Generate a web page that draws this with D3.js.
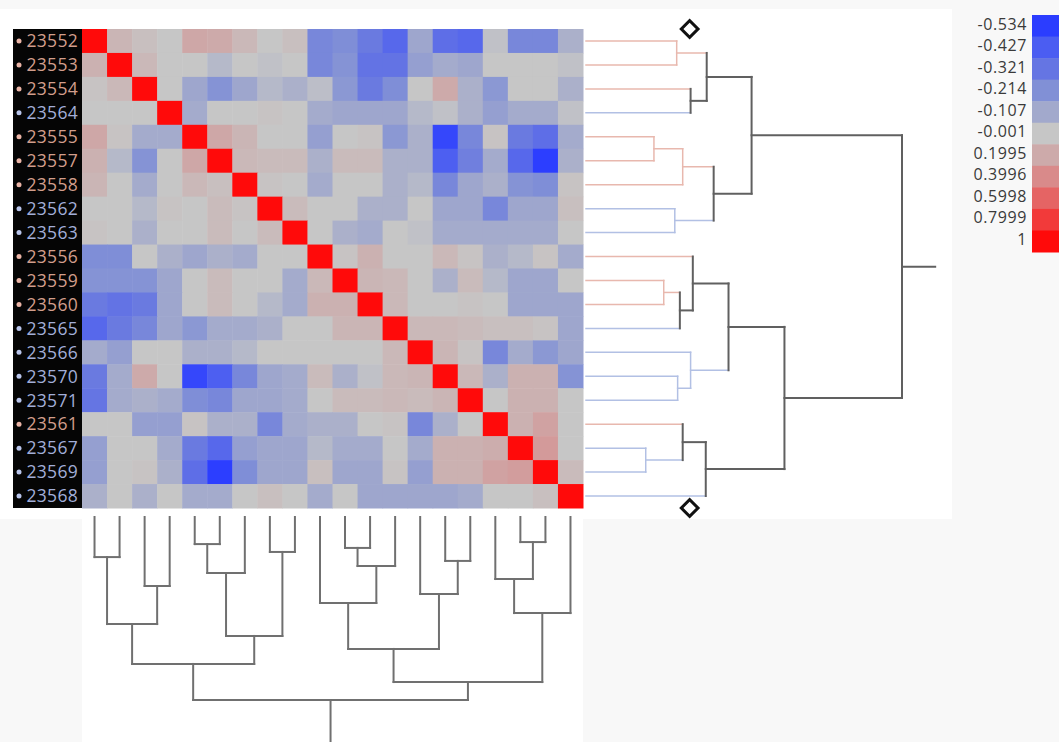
<!DOCTYPE html>
<html>
<head>
<meta charset="utf-8">
<script src="https://cdn.jsdelivr.net/npm/d3@7"></script>
<style>
  body { margin: 0; background: #f8f8f8; }
  svg { display: block; font-family: "Open Sans", "Noto Sans", sans-serif; }
</style>
</head>
<body>
<script>
/* Sample ids in display order, and their group (0 = salmon, 1 = blue) */
var samples = ["23552", "23553", "23554", "23564", "23555", "23557", "23558", "23562", "23563", "23556",
               "23559", "23560", "23565", "23566", "23570", "23571", "23561", "23567", "23569", "23568"];
var groups = [0, 0, 0, 1, 0, 0, 0, 1, 1, 0, 0, 0, 1, 1, 1, 1, 0, 1, 1, 1];

/* Correlation matrix */
var corr = [
  [1, 0.12, 0.05, 0.0, 0.22, 0.2, 0.1, 0.0, 0.05, -0.25, -0.22, -0.3, -0.38, -0.12, -0.35, -0.38, -0.02, -0.25, -0.25, -0.08],
  [0.15, 1, 0.1, 0.0, 0.0, -0.05, 0.0, -0.02, 0.0, -0.25, -0.2, -0.33, -0.33, -0.15, -0.1, -0.12, 0.0, 0.0, 0.0, -0.02],
  [0.02, 0.1, 1, 0.0, -0.12, -0.2, -0.12, -0.05, -0.08, -0.03, -0.18, -0.3, -0.22, 0.0, 0.2, -0.08, -0.18, 0.0, 0.0, -0.08],
  [0.0, 0.0, 0.0, 1, -0.1, 0.0, 0.0, 0.02, 0.0, -0.1, -0.12, -0.12, -0.12, -0.05, -0.02, -0.08, -0.15, -0.1, -0.1, -0.02],
  [0.22, 0.02, -0.1, -0.1, 1, 0.22, 0.12, 0.0, 0.0, -0.15, 0.0, 0.02, -0.18, -0.08, -0.5, -0.25, 0.02, -0.3, -0.35, -0.1],
  [0.15, -0.05, -0.2, 0.0, 0.22, 1, 0.1, 0.08, 0.08, -0.08, 0.08, 0.08, -0.08, -0.08, -0.42, -0.28, -0.1, -0.38, -0.53, -0.08],
  [0.12, 0.0, -0.1, 0.0, 0.1, 0.05, 1, 0.02, 0.0, -0.1, 0.0, 0.0, -0.08, -0.05, -0.25, -0.12, -0.08, -0.2, -0.22, 0.02],
  [0.0, 0.0, -0.05, 0.02, 0.0, 0.08, 0.02, 1, 0.08, 0.0, 0.0, -0.08, -0.08, 0.0, -0.12, -0.12, -0.25, -0.12, -0.12, 0.05],
  [0.02, 0.0, -0.08, 0.0, 0.0, 0.08, 0.0, 0.08, 1, 0.0, -0.08, -0.1, 0.0, -0.02, -0.1, -0.1, -0.1, -0.1, -0.1, 0.0],
  [-0.22, -0.22, 0.0, -0.08, -0.12, -0.08, -0.1, 0.0, 0.0, 1, 0.02, 0.15, 0.0, 0.0, 0.1, 0.02, -0.08, -0.05, 0.02, -0.1],
  [-0.2, -0.2, -0.2, -0.12, 0.0, 0.08, 0.0, 0.0, -0.1, 0.1, 1, 0.12, 0.1, 0.0, -0.08, 0.08, -0.05, -0.12, -0.12, 0.0],
  [-0.3, -0.33, -0.3, -0.12, 0.0, 0.08, 0.0, -0.05, -0.1, 0.15, 0.15, 1, 0.1, 0.0, 0.0, 0.02, 0.0, -0.12, -0.12, -0.12],
  [-0.38, -0.3, -0.25, -0.12, -0.18, -0.1, -0.1, -0.08, 0.0, 0.0, 0.12, 0.12, 1, 0.1, 0.1, 0.08, 0.05, 0.05, 0.02, -0.12],
  [-0.1, -0.15, 0.0, 0.0, -0.08, -0.08, -0.05, 0.0, 0.0, 0.0, 0.0, 0.0, 0.1, 1, 0.12, 0.02, -0.25, -0.1, -0.18, -0.12],
  [-0.3, -0.1, 0.2, 0.0, -0.5, -0.42, -0.25, -0.12, -0.1, 0.08, -0.08, -0.02, 0.1, 0.12, 1, 0.1, -0.08, 0.15, 0.15, -0.2],
  [-0.32, -0.1, -0.08, -0.1, -0.22, -0.25, -0.12, -0.12, -0.1, 0.0, 0.08, 0.08, 0.1, 0.08, 0.12, 1, 0.0, 0.15, 0.15, 0.0],
  [0.0, 0.0, -0.15, -0.15, 0.02, -0.08, -0.08, -0.25, -0.1, -0.08, -0.08, 0.0, 0.02, -0.25, -0.08, 0.0, 1, 0.15, 0.25, 0.0],
  [-0.15, 0.0, 0.0, -0.1, -0.3, -0.38, -0.15, -0.12, -0.12, -0.05, -0.1, -0.1, 0.0, -0.1, 0.15, 0.15, 0.18, 1, 0.3, 0.0],
  [-0.15, 0.0, 0.02, -0.08, -0.35, -0.53, -0.22, -0.12, -0.12, 0.05, -0.12, -0.12, 0.02, -0.15, 0.15, 0.15, 0.25, 0.28, 1, 0.08],
  [-0.08, 0.0, -0.08, 0.0, -0.1, -0.1, 0.0, 0.05, 0.0, -0.1, 0.0, -0.12, -0.12, -0.12, -0.12, -0.1, 0.0, 0.0, 0.05, 1]
];

/* Linkages: [childA, childB, height]; ids >= 20 point to earlier merges */
var rowLinks = [
  [0, 1, 0.287], [2, 3, 0.331], [20, 21, 0.382], [4, 5, 0.215], [23, 6, 0.306],
  [7, 8, 0.281], [24, 25, 0.404], [22, 26, 0.524], [10, 11, 0.246], [28, 12, 0.297],
  [9, 29, 0.338], [14, 15, 0.290], [13, 31, 0.331], [30, 32, 0.451], [17, 18, 0.189],
  [16, 34, 0.306], [35, 19, 0.379], [33, 36, 0.628], [27, 37, 1.0]
];
var colLinks = [
  [0, 1, 0.219], [2, 3, 0.377], [20, 21, 0.585], [4, 5, 0.148], [23, 6, 0.306],
  [7, 8, 0.191], [24, 25, 0.650], [22, 26, 0.803], [10, 11, 0.169], [28, 12, 0.268],
  [9, 29, 0.470], [14, 15, 0.240], [13, 31, 0.421], [30, 32, 0.721], [17, 18, 0.137],
  [16, 34, 0.339], [35, 19, 0.525], [33, 36, 0.902], [27, 37, 1.0]
];

/* Legend */
var legendStops = [-0.534, -0.427, -0.321, -0.214, -0.107, -0.001, 0.1995, 0.3996, 0.5998, 0.7999, 1];
var legendLabels = ["-0.534", "-0.427", "-0.321", "-0.214", "-0.107", "-0.001", "0.1995", "0.3996", "0.5998", "0.7999", "1"];
var legendColors = ["#2b3dff", "#4b5df2", "#6575e3", "#8190d6", "#a2a9cc", "#c6c6c6",
                    "#cdaaaa", "#d98a8a", "#e56464", "#f23a3a", "#ff0a0a"];

var groupText = ["#d29e8c", "#a2aed8"];
var groupDot = ["#eab4a6", "#b8c4ea"];
var groupLine = ["#e8b8ae", "#b2c0e4"];
var darkLine = "#606060";

var W = 1059, H = 742;
var svg = d3.select("body").append("svg")
    .attr("width", W)
    .attr("height", H);

/* background panels */
svg.append("rect").attr("width", W).attr("height", H).attr("fill", "#f8f8f8");
svg.append("rect").attr("x", 0).attr("y", 9).attr("width", 952).attr("height", 510).attr("fill", "#fff");
svg.append("rect").attr("x", 82).attr("y", 519).attr("width", 501).attr("height", H - 519).attr("fill", "#fff");

var idx = d3.range(samples.length);
var x = d3.scaleBand().domain(idx).range([82, 583]);
var y = d3.scaleBand().domain(idx).range([29, 508]);
var color = d3.scaleLinear().domain(legendStops).range(legendColors).clamp(true);

/* label strip */
svg.append("rect")
    .attr("x", 13).attr("y", y.range()[0])
    .attr("width", 82 - 13).attr("height", y.range()[1] - y.range()[0])
    .attr("fill", "#050505");

var labels = svg.selectAll(".lab")
    .data(idx)
  .enter().append("g")
    .attr("class", "lab")
    .attr("transform", function(i) { return "translate(0," + (y(i) + y.bandwidth() / 2) + ")"; });
labels.append("circle")
    .attr("cx", 19).attr("cy", 0).attr("r", 2.5)
    .attr("fill", function(i) { return groupDot[groups[i]]; });
labels.append("text")
    .attr("x", 78).attr("dy", "0.36em")
    .attr("text-anchor", "end")
    .attr("font-size", 17.5)
    .attr("letter-spacing", 0.3)
    .attr("fill", function(i) { return groupText[groups[i]]; })
    .text(function(i) { return samples[i]; });

/* heatmap cells */
var cells = [];
corr.forEach(function(row, r) {
  row.forEach(function(v, c) { cells.push({r: r, c: c, v: v}); });
});
svg.selectAll(".cell")
    .data(cells)
  .enter().append("rect")
    .attr("class", "cell")
    .attr("x", function(d) { return x(d.c); })
    .attr("y", function(d) { return y(d.r); })
    .attr("width", x.bandwidth() + 0.5)
    .attr("height", y.bandwidth() + 0.5)
    .attr("fill", function(d) { return color(d.v); });

/* ******************************************************************
 * Dendrograms
 */
function buildNodes(links, pos) {
  var nodes = idx.map(function(i) { return {pos: pos(i), h: 0, leaves: [i]}; });
  links.forEach(function(l) {
    var a = nodes[l[0]], b = nodes[l[1]];
    nodes.push({a: a, b: b, h: l[2], pos: (a.pos + b.pos) / 2, leaves: a.leaves.concat(b.leaves)});
  });
  return nodes;
}

function nodeColor(n) {
  var g = groups[n.leaves[0]];
  var pure = n.leaves.every(function(i) { return groups[i] === g; });
  return pure ? groupLine[g] : darkLine;
}

/* row dendrogram, to the right */
var rowNodes = buildNodes(rowLinks, function(i) { return y(i) + y.bandwidth() / 2; });
var xR = d3.scaleLinear().domain([0, 1]).range([586, 902]);
var segs = [];
rowNodes.filter(function(n) { return n.a; }).forEach(function(n) {
  [n.a, n.b].forEach(function(c) {
    segs.push({x1: xR(c.h), x2: xR(n.h), y1: c.pos, y2: c.pos, col: nodeColor(c)});
  });
  segs.push({x1: xR(n.h), x2: xR(n.h), y1: n.a.pos, y2: n.b.pos, col: nodeColor(n)});
});
var rowRoot = rowNodes[rowNodes.length - 1];
segs.push({x1: xR(rowRoot.h), x2: xR(1.105), y1: rowRoot.pos, y2: rowRoot.pos, col: darkLine});

svg.selectAll(".rseg")
    .data(segs)
  .enter().append("line")
    .attr("class", "rseg")
    .attr("x1", function(d) { return d.x1; })
    .attr("x2", function(d) { return d.x2; })
    .attr("y1", function(d) { return d.y1; })
    .attr("y2", function(d) { return d.y2; })
    .attr("stroke", function(d) { return d.col; })
    .attr("stroke-width", function(d) { return d.col === darkLine ? 2 : 1.5; })
    .attr("stroke-linecap", "square");

/* zoom handles at the ends of the row dendrogram */
var handleH = 0.328;
svg.selectAll(".handle")
    .data(y.range())
  .enter().append("path")
    .attr("class", "handle")
    .attr("d", d3.symbol(d3.symbolSquare, 140))
    .attr("transform", function(d) { return "translate(" + xR(handleH) + "," + d + ") rotate(45)"; })
    .attr("fill", "#fff")
    .attr("stroke", "#111")
    .attr("stroke-width", 3);

/* column dendrogram, below */
var colNodes = buildNodes(colLinks, function(i) { return x(i) + x.bandwidth() / 2; });
var yC = d3.scaleLinear().domain([0, 1]).range([517, 700]);
var csegs = [];
colNodes.filter(function(n) { return n.a; }).forEach(function(n) {
  [n.a, n.b].forEach(function(c) {
    csegs.push({x1: c.pos, x2: c.pos, y1: yC(c.h), y2: yC(n.h)});
  });
  csegs.push({x1: n.a.pos, x2: n.b.pos, y1: yC(n.h), y2: yC(n.h)});
});
var colRoot = colNodes[colNodes.length - 1];
csegs.push({x1: colRoot.pos, x2: colRoot.pos, y1: yC(colRoot.h), y2: yC(1.25)});

svg.selectAll(".cseg")
    .data(csegs)
  .enter().append("line")
    .attr("class", "cseg")
    .attr("x1", function(d) { return d.x1; })
    .attr("x2", function(d) { return d.x2; })
    .attr("y1", function(d) { return d.y1; })
    .attr("y2", function(d) { return d.y2; })
    .attr("stroke", "#707070")
    .attr("stroke-width", 2)
    .attr("stroke-linecap", "square");

/* legend */
var ly = d3.scaleBand().domain(d3.range(legendStops.length)).range([15, 252]);
svg.selectAll(".sw")
    .data(legendColors)
  .enter().append("rect")
    .attr("class", "sw")
    .attr("x", 1032)
    .attr("y", function(d, i) { return ly(i); })
    .attr("width", 30)
    .attr("height", ly.bandwidth() + 0.5)
    .attr("fill", function(d) { return d; });
svg.selectAll(".lt")
    .data(legendLabels)
  .enter().append("text")
    .attr("class", "lt")
    .attr("x", 1027)
    .attr("y", function(d, i) { return ly(i) + ly.bandwidth() / 2 - 2; })
    .attr("dy", "0.36em")
    .attr("text-anchor", "end")
    .attr("font-size", 16)
    .attr("letter-spacing", 0.6)
    .attr("fill", "#3a3a3a")
    .text(function(d) { return d; });
</script>
</body>
</html>
